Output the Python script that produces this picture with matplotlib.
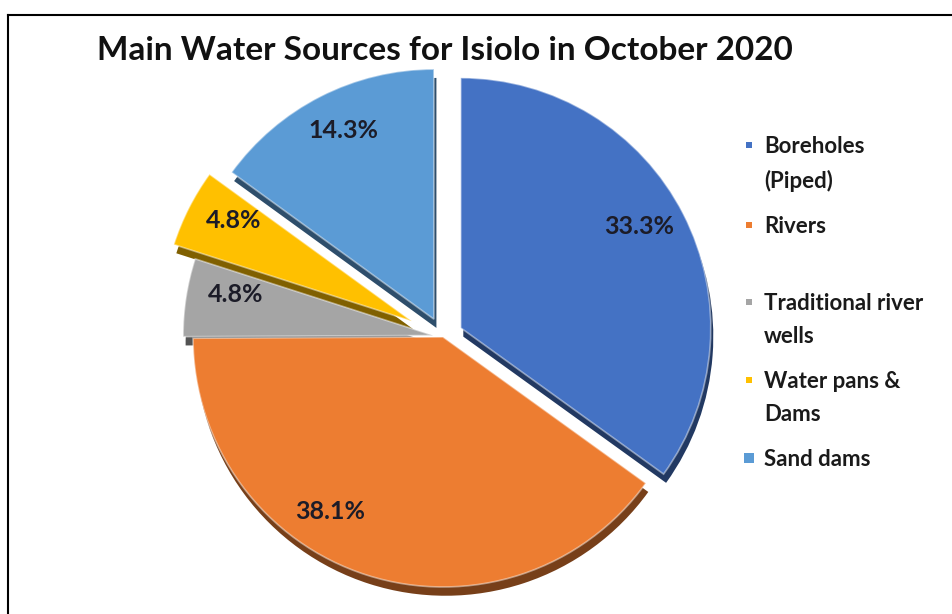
import matplotlib
matplotlib.use("Agg")
import matplotlib.pyplot as plt
from matplotlib.lines import Line2D
from matplotlib.patches import Rectangle
import matplotlib.colors as mcolors
import numpy as np

title = "Main Water Sources for Isiolo in October 2020"
categories = ["Boreholes\n(Piped)", "Rivers", "Traditional river\nwells", "Water pans &\nDams", "Sand dams"]
values = [33.3, 38.1, 4.8, 4.8, 14.3]
colors = ["#4472C4", "#ED7D31", "#A5A5A5", "#FFC000", "#5B9BD5"]
explode = [0.08, 0.0, 0.04, 0.14, 0.08]

W, H = 953, 614
fig = plt.figure(figsize=(W / 100, H / 100), dpi=100)
fig.patch.set_facecolor("white")

# pie axes: centre at pixel (443, 337), radius 250 px
R = 250
lim = 1.3
size = 2 * lim * R
cx, cy = 443, H - 337
ax = fig.add_axes([(cx - size / 2) / W, (cy - size / 2) / H, size / W, size / H])

total = sum(values)

def darker(c, f=0.5):
    r, g, b = mcolors.to_rgb(c)
    return (r * f, g * f, b * f)

# extrusion (3D side)
ax.pie(values, explode=explode, colors=[darker(c) for c in colors], startangle=90,
       counterclock=False, center=(0.01, -0.035), radius=1.0,
       wedgeprops=dict(linewidth=0))
wedges, _, autotexts = ax.pie(values, explode=explode, colors=colors, startangle=90,
       counterclock=False, radius=1.0, autopct=lambda p: f"{p * total / 100:.1f}%",
       pctdistance=0.8, wedgeprops=dict(linewidth=1.2, edgecolor=(1, 1, 1, 0.45)),
       textprops=dict(fontsize=18, fontweight="bold", family="Lato", color="#1c1c28"))

ax.set_xlim(-lim, lim)
ax.set_ylim(-lim, lim)
ax.set_aspect("equal")
ax.axis("off")

# labels sit slightly higher in the reference (perspective)
for t in autotexts:
    x, y = t.get_position()
    t.set_position((x, y + 0.04))
# rivers label sits a bit to the left in the reference
w = wedges[1]
ang = np.deg2rad(237)
autotexts[1].set_position((w.center[0] + 0.83 * np.cos(ang), w.center[1] + 0.83 * np.sin(ang)))

# frame lines (left and top)
fig.add_artist(Line2D([8 / W, 8 / W], [0, 1 - 15 / H], transform=fig.transFigure, color="black", lw=1.5))
fig.add_artist(Line2D([8 / W, 1], [1 - 15 / H, 1 - 15 / H], transform=fig.transFigure, color="black", lw=1.5))

fig.text(97 / W, 1 - 50 / H, title, fontsize=24, fontweight="bold", family="Lato",
         ha="left", va="center", color="#111111")

# legend
leg_y = [145, 225, 302, 380, 458]
for lab, c, y in zip(categories, colors, leg_y):
    s = 10 if lab == "Sand dams" else 6
    fig.add_artist(Rectangle(((749 - s / 2) / W, 1 - (y + s / 2) / H), s / W, s / H,
                             transform=fig.transFigure, facecolor=c, edgecolor="none"))
    fig.text(764 / W, 1 - (y - 9) / H, lab, fontsize=16, fontweight="bold", family="Lato",
             ha="left", va="top", color="#1a1a1a", linespacing=1.7)

fig.savefig("out.png", dpi=100, facecolor="white")
